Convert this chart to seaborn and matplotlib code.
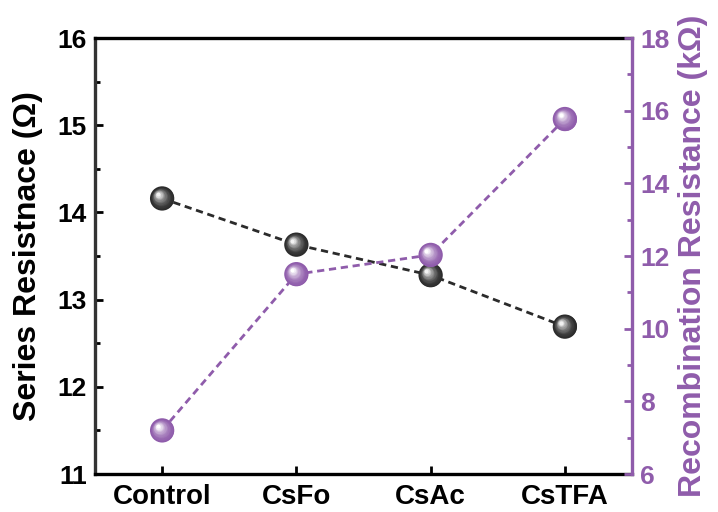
import numpy as np
import pandas as pd
import matplotlib
matplotlib.use("Agg")
import matplotlib.pyplot as plt
import matplotlib.transforms as mtransforms
from matplotlib.ticker import MultipleLocator
import seaborn as sns

categories = ["Control", "CsFo", "CsAc", "CsTFA"]
series_resistance = [14.16, 13.63, 13.28, 12.69]
recomb_resistance = [7.20, 11.50, 12.03, 15.77]

BLACK = "#2b2b2b"
PURPLE = "#8f5cab"

sns.set_theme(style="white")
plt.rcParams["font.family"] = ["Liberation Sans", "DejaVu Sans"]
plt.rcParams["font.weight"] = "bold"

fig = plt.figure(figsize=(7.18, 5.12), dpi=100)
ax = fig.add_axes([95 / 718, 38 / 512, (632 - 95) / 718, (474 - 38) / 512])
ax2 = ax.twinx()

df = pd.DataFrame({"cat": categories, "rs": series_resistance, "rrec": recomb_resistance})

sns.lineplot(data=df, x="cat", y="rs", ax=ax, color=BLACK, lw=2.0,
             linestyle=(0, (2.6, 1.7)), sort=False, zorder=1)
sns.lineplot(data=df, x="cat", y="rrec", ax=ax2, color=PURPLE, lw=2.0,
             linestyle=(0, (2.6, 1.7)), sort=False, zorder=1)


def spheres(axis, x, y, base, hi, size=17.5, n=14):
    base_rgb = np.array(matplotlib.colors.to_rgb(base))
    hi_rgb = np.array(matplotlib.colors.to_rgb(hi))
    sns.scatterplot(x=x, y=y, ax=axis, s=size ** 2, color=base, edgecolor="none",
                    legend=False, zorder=3)
    r = size / 2.0
    for i in range(1, n + 1):
        f = i / n
        rad = r * (1 - 0.84 * f)
        off = r * 0.34 * f
        col = base_rgb + (hi_rgb - base_rgb) * (f ** 1.8)
        tr = mtransforms.offset_copy(axis.transData, fig=fig, x=-off, y=off, units="points")
        axis.plot(x, y, "o", ms=2 * rad, mfc=col, mec="none", transform=tr, zorder=3 + f)


spheres(ax, categories, series_resistance, BLACK, "#f2f2f2")
spheres(ax2, categories, recomb_resistance, PURPLE, "#ffffff")

ax.set_xlim(-0.5, 3.5)
ax.set_ylim(11, 16)
ax2.set_ylim(6, 18)

ax.yaxis.set_major_locator(MultipleLocator(1))
ax.yaxis.set_minor_locator(MultipleLocator(0.5))
ax2.yaxis.set_major_locator(MultipleLocator(2))
ax2.yaxis.set_minor_locator(MultipleLocator(1))

for s in ["left", "top", "bottom"]:
    ax.spines[s].set_color("black")
    ax.spines[s].set_linewidth(2.4)
ax.spines["left"].set_color("#333333")
ax.spines["right"].set_visible(False)
for s in ["left", "top", "bottom"]:
    ax2.spines[s].set_visible(False)
ax2.spines["right"].set_color(PURPLE)
ax2.spines["right"].set_linewidth(2.4)

ax.tick_params(axis="y", which="major", direction="in", length=6, width=2,
               labelsize=19, colors="black", pad=6)
ax.tick_params(axis="x", which="major", direction="in", length=6, width=2,
               labelsize=20, colors="black", pad=7)
ax.tick_params(axis="y", which="minor", direction="in", length=3.5, width=2, colors="black")
ax.tick_params(axis="x", which="both", top=False, bottom=True)
ax.tick_params(axis="y", which="both", left=True, right=False)
ax2.tick_params(axis="y", which="major", direction="in", length=6, width=2,
                labelsize=19, colors=PURPLE, pad=6, right=True)
ax2.tick_params(axis="y", which="minor", direction="in", length=3.5, width=2,
                colors=PURPLE, right=True)

for lab in ax.get_xticklabels() + ax.get_yticklabels() + ax2.get_yticklabels():
    lab.set_fontweight("bold")

ax.set_xlabel("")
ax.set_ylabel("Series Resistnace (Ω)", fontsize=23, fontweight="bold", color="black", labelpad=10)
ax2.set_ylabel("Recombination Resistance (kΩ)", fontsize=23, fontweight="bold",
               color=PURPLE, labelpad=6)
ax.grid(False)
ax2.grid(False)

fig.savefig("out.png", dpi=100)
